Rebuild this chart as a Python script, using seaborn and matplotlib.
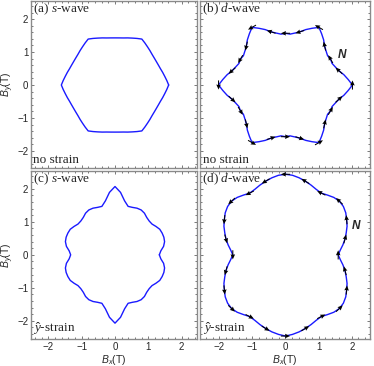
import numpy as np
import matplotlib
matplotlib.use("Agg")
import matplotlib.pyplot as plt
import seaborn as sns
from matplotlib.ticker import MultipleLocator

# angles of the sampled points (deg), counter-clockwise from +B_x
theta_deg = list(range(0, 360, 5))

# radius |B| (T) of each critical-field curve, one value per angle above
r_a = [1.61, 1.56, 1.515, 1.48, 1.45, 1.435, 1.43, 1.435, 1.45, 1.48, 1.515, 1.56,
       1.61, 1.56, 1.515, 1.48, 1.45, 1.435, 1.43, 1.435, 1.45, 1.48, 1.515, 1.56,
       1.61, 1.56, 1.515, 1.48, 1.45, 1.435, 1.43, 1.435, 1.45, 1.48, 1.515, 1.56,
       1.61, 1.56, 1.515, 1.48, 1.45, 1.435, 1.43, 1.435, 1.45, 1.48, 1.515, 1.56,
       1.61, 1.56, 1.515, 1.48, 1.45, 1.435, 1.43, 1.435, 1.45, 1.48, 1.515, 1.56,
       1.61, 1.56, 1.515, 1.48, 1.45, 1.435, 1.43, 1.435, 1.45, 1.48, 1.515, 1.56]

r_b = [2.02, 1.90, 1.79, 1.67, 1.60, 1.55, 1.57, 1.55, 1.60, 1.67, 1.79, 1.90,
       2.02, 1.90, 1.79, 1.67, 1.60, 1.55, 1.57, 1.55, 1.60, 1.67, 1.79, 1.90,
       2.02, 1.90, 1.79, 1.67, 1.60, 1.55, 1.57, 1.55, 1.60, 1.67, 1.79, 1.90,
       2.02, 1.90, 1.79, 1.67, 1.60, 1.55, 1.57, 1.55, 1.60, 1.67, 1.79, 1.90,
       2.02, 1.90, 1.79, 1.67, 1.60, 1.55, 1.57, 1.55, 1.60, 1.67, 1.79, 1.90,
       2.02, 1.90, 1.79, 1.67, 1.60, 1.55, 1.57, 1.55, 1.60, 1.67, 1.79, 1.90]

r_c = [1.33, 1.38, 1.48, 1.54, 1.56, 1.56, 1.55, 1.50, 1.45, 1.45, 1.48, 1.54,
       1.57, 1.56, 1.53, 1.52, 1.66, 1.90,
       2.07, 1.90, 1.66, 1.52, 1.53, 1.56, 1.57, 1.54, 1.48, 1.45, 1.45, 1.50,
       1.55, 1.56, 1.56, 1.54, 1.48, 1.38,
       1.33, 1.38, 1.48, 1.54, 1.56, 1.56, 1.55, 1.50, 1.45, 1.45, 1.48, 1.54,
       1.57, 1.56, 1.53, 1.52, 1.66, 1.90,
       2.07, 1.90, 1.66, 1.52, 1.53, 1.56, 1.57, 1.54, 1.48, 1.45, 1.45, 1.50,
       1.55, 1.56, 1.56, 1.54, 1.48, 1.38]

r_d = [1.59, 1.66, 1.76, 1.86, 1.95, 2.05, 2.13, 2.22, 2.28, 2.30, 2.27, 2.21,
       2.16, 2.19, 2.25, 2.31, 2.37, 2.42,
       2.44, 2.42, 2.37, 2.31, 2.25, 2.19, 2.16, 2.21, 2.27, 2.30, 2.28, 2.22,
       2.13, 2.05, 1.95, 1.86, 1.76, 1.66,
       1.59, 1.66, 1.76, 1.86, 1.95, 2.05, 2.13, 2.22, 2.28, 2.30, 2.27, 2.21,
       2.16, 2.19, 2.25, 2.31, 2.37, 2.42,
       2.46, 2.42, 2.37, 2.31, 2.25, 2.19, 2.16, 2.21, 2.27, 2.30, 2.28, 2.22,
       2.13, 2.05, 1.95, 1.86, 1.76, 1.66]

panel_titles = ["(a) $s$-wave", "(b) $d$-wave", "(c) $s$-wave", "(d) $d$-wave"]
strain_labels = ["no strain", "no strain", r"$\hat{y}$-strain", r"$\hat{y}$-strain"]
n_label_pos = [None, (1.58, 0.90), None, (2.0, 0.88)]
tick_vals = [-2, -1, 0, 1, 2]
arrow_every = 3  # one arrow per 15 degrees on the d-wave curves

sns.set_theme(style="ticks")
plt.rcParams["font.family"] = ["Liberation Sans", "DejaVu Sans"]
plt.rcParams["mathtext.fontset"] = "custom"
plt.rcParams["mathtext.rm"] = "Liberation Serif"
plt.rcParams["mathtext.it"] = "Liberation Serif:italic"
plt.rcParams["mathtext.sf"] = "Liberation Sans:italic"

W, H = 374, 366
fig = plt.figure(figsize=(W / 100, H / 100), dpi=100)

# axes boxes in pixels: left, top, right, bottom
boxes = [(31, 1, 197, 168), (200, 1, 370, 168),
         (31, 171, 197, 339), (200, 171, 370, 339)]
xlims = [(-2.52, 2.46), (-2.58, 2.55), (-2.52, 2.46), (-2.58, 2.55)]
ylims = [(-2.52, 2.55), (-2.52, 2.55), (-2.55, 2.54), (-2.55, 2.54)]

radii = [r_a, r_b, r_c, r_d]
th = np.deg2rad(theta_deg)

for i, r in enumerate(radii):
    l, t, rr, b = boxes[i]
    ax = fig.add_axes([l / W, 1 - b / H, (rr - l) / W, (b - t) / H])
    r = np.array(r)
    x = np.append(r * np.cos(th), r[0] * np.cos(th[0]))
    y = np.append(r * np.sin(th), r[0] * np.sin(th[0]))
    sns.lineplot(x=x, y=y, sort=False, estimator=None, color="#1a1aff",
                 linewidth=1.0, ax=ax)

    if i in (1, 3):
        idx = np.arange(0, len(r), arrow_every)
        xp, yp = x[:-1], y[:-1]
        tx = np.roll(xp, -1) - np.roll(xp, 1)
        ty = np.roll(yp, -1) - np.roll(yp, 1)
        nrm = np.hypot(tx, ty)
        ax.quiver(xp[idx], yp[idx], tx[idx] / nrm[idx], ty[idx] / nrm[idx],
                  angles="xy", scale_units="xy", scale=3.6, pivot="middle",
                  color="black", width=0.006, headwidth=4.5, headlength=5,
                  headaxislength=4.5, zorder=3)
        ax.text(*n_label_pos[i], "N", fontsize=8.5, fontweight="bold",
                fontstyle="italic", ha="left", va="center")

    ax.set_xlim(*xlims[i])
    ax.set_ylim(*ylims[i])
    ax.set_xticks(tick_vals)
    ax.set_yticks(tick_vals)
    ax.xaxis.set_minor_locator(MultipleLocator(0.2))
    ax.yaxis.set_minor_locator(MultipleLocator(0.2))
    ax.tick_params(which="both", direction="in", top=True, right=True,
                   color="#444444", width=0.5, labelsize=7, pad=2)
    ax.tick_params(which="major", length=2.5)
    ax.tick_params(which="minor", length=1.3)
    for sp in ax.spines.values():
        sp.set_color("#8a8a8a")
        sp.set_linewidth(1.0)

    if i in (0, 2):
        ax.set_yticklabels(["\u22122", "\u22121", "0", "1", "2"])
        ax.set_ylabel(r"$\mathsf{B_y}$(T)", fontsize=7.5, labelpad=1)
    else:
        ax.set_yticklabels([])
    if i in (2, 3):
        ax.set_xticklabels(["\u22122", "\u22121", "0", "1", "2"])
        ax.set_xlabel(r"$\mathsf{B_x}$(T)", fontsize=7.5, labelpad=1)
    else:
        ax.set_xticklabels([])

    ax.text(0.01, 0.995, panel_titles[i], transform=ax.transAxes,
            family="Liberation Serif", fontsize=9.5, ha="left", va="top")
    ax.text(0.015, 0.01, strain_labels[i], transform=ax.transAxes,
            family="Liberation Serif", fontsize=9.5, ha="left", va="bottom")

fig.savefig("out.png", dpi=100)
